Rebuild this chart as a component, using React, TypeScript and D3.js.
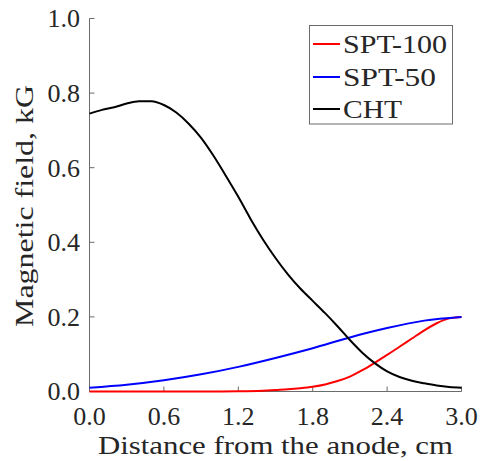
import React from "react";
import * as d3 from "d3";

const xTicks = [0, 0.6, 1.2, 1.8, 2.4, 3.0];
const yTicks = [0, 0.2, 0.4, 0.6, 0.8, 1.0];

const chtX = [0, 0.1, 0.2, 0.3, 0.4, 0.5, 0.6, 0.7, 0.8, 0.9, 1.0, 1.1, 1.2, 1.3, 1.4, 1.5, 1.6, 1.7, 1.8, 1.9, 2.0, 2.1, 2.2, 2.3, 2.4, 2.5, 2.6, 2.7, 2.8, 2.9, 3.0];
const chtY = [0.745, 0.755, 0.762, 0.772, 0.778, 0.778, 0.768, 0.748, 0.718, 0.68, 0.632, 0.578, 0.522, 0.462, 0.407, 0.358, 0.314, 0.276, 0.243, 0.21, 0.175, 0.138, 0.104, 0.076, 0.054, 0.039, 0.029, 0.022, 0.016, 0.012, 0.01];

const spt50X = [0, 0.3, 0.6, 0.9, 1.2, 1.5, 1.8, 2.1, 2.4, 2.7, 3.0];
const spt50Y = [0.01, 0.018, 0.03, 0.046, 0.066, 0.09, 0.116, 0.145, 0.17, 0.19, 0.2];

const spt100X = [0, 0.4, 0.8, 1.2, 1.4, 1.5, 1.6, 1.7, 1.8, 1.9, 2.0, 2.1, 2.2, 2.3, 2.4, 2.5, 2.6, 2.7, 2.8, 2.9, 3.0];
const spt100Y = [0, 0, 0, 0.0005, 0.002, 0.004, 0.006, 0.009, 0.013, 0.019, 0.028, 0.04, 0.057, 0.077, 0.098, 0.12, 0.142, 0.164, 0.183, 0.196, 0.2];

const seriesNames = ["SPT-100", "SPT-50", "CHT"];
const seriesColors = ["#ff0000", "#0000ff", "#000000"];

const FONT = '"Liberation Serif"';

export default function App() {
  const W = 480, H = 461;
  const x = d3.scaleLinear().domain([0, 3]).range([89.5, 461.5]);
  const y = d3.scaleLinear().domain([0, 1]).range([391.5, 18.5]);
  const line = d3
    .line<[number, number]>()
    .x((d) => x(d[0]))
    .y((d) => y(d[1]))
    .curve(d3.curveMonotoneX);

  const series = [
    spt100X.map((v, i) => [v, spt100Y[i]] as [number, number]),
    spt50X.map((v, i) => [v, spt50Y[i]] as [number, number]),
    chtX.map((v, i) => [v, chtY[i]] as [number, number]),
  ];

  const axisColor = "#6b6b6b";
  const textColor = "#262626";
  const legendRows = [44, 77, 109];
  const legendWidths = [104, 93, 59];
  const txt = { fontFamily: FONT, fill: textColor } as React.CSSProperties;

  return (
    <svg width={W} height={H} style={{ position: "absolute", left: 0, top: 0 }}>
      <rect width={W} height={H} fill="#fff" />
      <line x1={x(0)} x2={x(3)} y1={y(0)} y2={y(0)} stroke={axisColor} strokeWidth={1} />
      <line x1={x(0)} x2={x(0)} y1={y(0)} y2={y(1)} stroke={axisColor} strokeWidth={1} />
      {xTicks.map((t) => (
        <g key={"x" + t}>
          <line x1={x(t)} x2={x(t)} y1={y(0)} y2={y(0) - 5} stroke={axisColor} />
          <text x={x(t)} y={425} textAnchor="middle" style={{ ...txt, fontSize: 26 }}>
            {t.toFixed(1)}
          </text>
        </g>
      ))}
      {yTicks.map((t) => (
        <g key={"y" + t}>
          <line x1={x(0)} x2={x(0) + 5} y1={y(t)} y2={y(t)} stroke={axisColor} />
          <text x={80} y={y(t)} dy="0.34em" textAnchor="end" style={{ ...txt, fontSize: 26 }}>
            {t.toFixed(1)}
          </text>
        </g>
      ))}
      <text x={275.5} y={454} textAnchor="middle" style={{ ...txt, fontSize: 25 }} textLength={355} lengthAdjust="spacingAndGlyphs">
        Distance from the anode, cm
      </text>
      <text transform="translate(33,206) rotate(-90)" textAnchor="middle" style={{ ...txt, fontSize: 26 }} textLength={242} lengthAdjust="spacingAndGlyphs">
        Magnetic field, kG
      </text>
      {series.map((s, i) => (
        <path key={i} d={line(s) || ""} fill="none" stroke={seriesColors[i]} strokeWidth={2} />
      ))}
      <rect x={309.5} y={25.5} width={143} height={98.5} fill="#fff" stroke={axisColor} strokeWidth={1} />
      {seriesNames.map((n, i) => (
        <g key={n}>
          <line x1={313} x2={340} y1={legendRows[i]} y2={legendRows[i]} stroke={seriesColors[i]} strokeWidth={2} />
          <text x={343} y={legendRows[i]} dy="0.34em" style={{ ...txt, fontSize: 26 }} textLength={legendWidths[i]} lengthAdjust="spacingAndGlyphs">
            {n}
          </text>
        </g>
      ))}
    </svg>
  );
}
